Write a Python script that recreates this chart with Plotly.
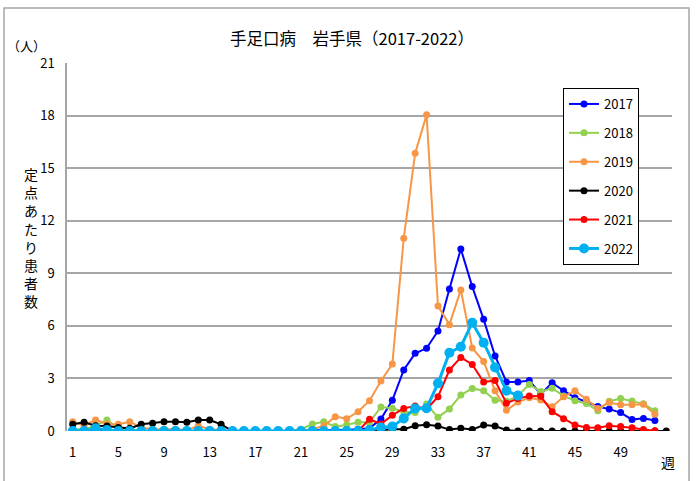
import plotly.graph_objects as go

weeks = list(range(1, 54))

y2017 = [0]*20 + [0, 0.05, 0.05, 0.05, 0.05, 0.1, 0.15, 0.68, 1.75, 3.48, 4.43, 4.72, 5.71, 8.1,
                  10.39, 8.24, 6.37, 4.28, 2.8, 2.8, 2.88, 2.1, 2.75, 2.3, 1.9, 1.67, 1.4, 1.25,
                  1.05, 0.65, 0.72, 0.6]
y2018 = [0.1, 0.1, 0.3, 0.63, 0.15, 0.1] + [0]*14 + [0.1, 0.4, 0.53, 0.25, 0.35, 0.5, 0.5, 1.37,
                  1.3, 1.1, 1.05, 1.54, 0.78, 1.26, 2.05, 2.43, 2.3, 1.75, 1.7, 2.0, 2.66, 2.25,
                  2.44, 2.0, 1.73, 1.57, 1.16, 1.7, 1.86, 1.71, 1.55, 1.16]
y2019 = [0.53, 0.3, 0.63, 0.4, 0.38, 0.53, 0.2, 0.1, 0.1, 0.1, 0.05, 0.3, 0.1, 0.05] + [0]*7 + \
        [0.1, 0.3, 0.82, 0.7, 1.1, 1.73, 2.85, 3.82, 11.0, 15.85, 18.04, 7.13, 6.07, 8.05, 4.74,
         3.96, 2.3, 1.18, 1.65, 1.9, 1.77, 1.39, 1.95, 2.3, 1.81, 1.29, 1.62, 1.5, 1.5, 1.52, 0.95]
y2020 = [0.38, 0.5, 0.3, 0.28, 0.2, 0.15, 0.38, 0.44, 0.53, 0.53, 0.5, 0.63, 0.63, 0.38] + [0]*13 + \
        [0.05, 0.1, 0.1, 0.3, 0.35, 0.28, 0.08, 0.15, 0.08, 0.34, 0.28, 0.05] + [0]*14
y2021 = [0]*26 + [0.67, 0.4, 0.9, 1.29, 1.43, 1.24, 1.96, 3.48, 4.2, 3.8, 2.8, 2.88, 1.58, 1.86,
                  2.0, 1.98, 1.1, 0.7, 0.34, 0.2, 0.18, 0.3, 0.25, 0.18, 0.08, 0.02]
y2022 = [0, 0, 0.15, 0.05] + [0]*22 + [0.05, 0.2, 0.25, 0.72, 1.29, 1.3, 2.72, 4.47, 4.81, 6.18,
                                       5.04, 3.63, 2.3, 2.02]

series = [
    ("2017", y2017, "#0000FF", 2, 7),
    ("2018", y2018, "#92D050", 2, 7),
    ("2019", y2019, "#F79646", 2, 7),
    ("2020", y2020, "#000000", 2, 7),
    ("2021", y2021, "#FF0000", 2, 7),
    ("2022", y2022, "#00B0F0", 3, 10),
]

FONT = "Noto Sans CJK JP"

fig = go.Figure()
for name, vals, color, lw, ms in series:
    fig.add_trace(go.Scatter(
        x=weeks[:len(vals)], y=vals, name=name, mode="lines+markers",
        line=dict(color=color, width=lw),
        marker=dict(color=color, size=ms),
        legendgroup=name,
    ))

W, H = 697, 481
L, R, T, B = 67, 25, 63, 50
pw, ph = W - L - R, H - T - B

def px(x):
    return (x - L) / pw

def py(y):
    return (H - B - y) / ph

fig.update_layout(
    width=W, height=H,
    margin=dict(l=L, r=R, t=T, b=B),
    paper_bgcolor="white", plot_bgcolor="white",
    font=dict(family=FONT, size=13, color="#000000"),
    showlegend=True,
    legend=dict(
        x=px(563), y=py(88), xanchor="left", yanchor="top",
        bordercolor="#000000", borderwidth=1, bgcolor="white",
        font=dict(family=FONT, size=13), tracegroupgap=9,
        itemwidth=30,
    ),
    xaxis=dict(
        range=[0.5, 53.5], tickmode="array", tickvals=list(range(1, 50, 4)),
        showgrid=False, zeroline=False, showline=False, ticks="",
        ticklabelstandoff=12,
        tickfont=dict(family=FONT, size=13),
    ),
    yaxis=dict(
        range=[0, 21], tickmode="array", tickvals=list(range(0, 22, 3)),
        showgrid=True, gridcolor="#A6A6A6", gridwidth=1.5,
        zeroline=False, showline=True, linecolor="#A6A6A6", linewidth=1.5,
        ticks="", ticklabelstandoff=8,
        tickfont=dict(family=FONT, size=13),
    ),
)

annotations = [
    dict(text="手足口病　岩手県（2017-2022）", x=px(352), y=py(38), font=dict(size=16.5)),
    dict(text="（人）", x=px(26), y=py(46), font=dict(size=13)),
    dict(text="<br>".join("定点あたり患者数"), x=px(31), y=py(237), font=dict(size=14)),
    dict(text="週", x=px(668), y=py(462), font=dict(size=14)),
]
for a in annotations:
    fig.add_annotation(xref="paper", yref="paper", showarrow=False,
                       xanchor="center", yanchor="middle", **a)

fig.add_shape(type="rect", xref="paper", yref="paper",
              x0=px(4), y0=py(8), x1=px(689), y1=py(484),
              line=dict(color="#A6A6A6", width=1.5), fillcolor="rgba(0,0,0,0)", layer="below")

fig.write_html("out.html", config={"displayModeBar": False},
               post_script="document.body.style.margin='0';")
